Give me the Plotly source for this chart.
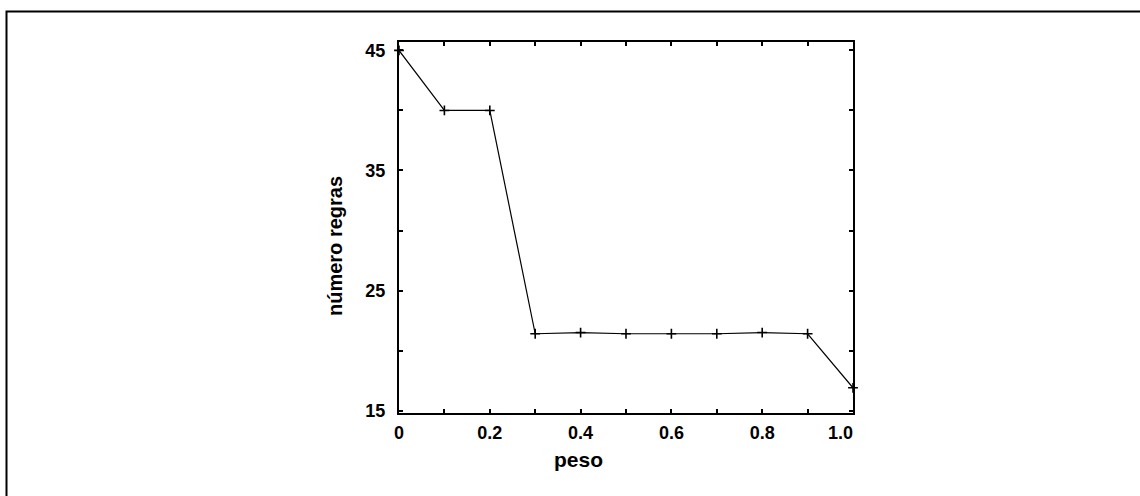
import plotly.graph_objects as go

# Data
peso = [0.0, 0.1, 0.2, 0.3, 0.4, 0.5, 0.6, 0.7, 0.8, 0.9, 1.0]
numero_regras = [45, 40, 40, 21.4, 21.5, 21.4, 21.4, 21.4, 21.5, 21.4, 16.9]

x_tickvals = [0.0, 0.1, 0.2, 0.3, 0.4, 0.5, 0.6, 0.7, 0.8, 0.9, 1.0]
x_ticktext = ["0", "", "0.2", "", "0.4", "", "0.6", "", "0.8", "", "1.0\u00a0\u00a0\u00a0\u00a0\u00a0"]
y_tickvals = [15, 20, 25, 30, 35, 40, 45]
y_ticktext = ["15", "", "25", "", "35", "", "45"]

W, H = 1140, 496
L, R, T, B = 399, 853, 42, 413  # plot area in pixels
pw, ph = R - L, B - T

def px(xp):
    return (xp - L) / pw

def py(yp):
    return (B - yp) / ph

FONT = "Liberation Sans, Arial, sans-serif"

fig = go.Figure()
fig.add_trace(go.Scatter(
    x=peso, y=numero_regras, mode="lines+markers",
    line=dict(color="black", width=1.2),
    marker=dict(symbol="cross-thin", size=7, line=dict(width=1.6, color="black"), color="black"),
    cliponaxis=False, showlegend=False,
))

axis_common = dict(
    showgrid=False, zeroline=False, showline=True, linecolor="black", linewidth=2,
    mirror="ticks", ticks="inside", ticklen=4, tickwidth=2, tickcolor="black",
    tickfont=dict(family=FONT, size=18, color="black", weight="bold"),
)

fig.update_xaxes(range=[0, 1.0], tickmode="array", tickvals=x_tickvals, ticktext=x_ticktext,
                 ticklabelstandoff=2, **axis_common)
fig.update_yaxes(range=[14.8, 45.7], tickmode="array", tickvals=y_tickvals, ticktext=y_ticktext,
                 ticklabelstandoff=8, **axis_common)

fig.update_layout(
    width=W, height=H,
    margin=dict(l=L, r=W - R, t=T, b=H - B, pad=0),
    paper_bgcolor="white", plot_bgcolor="white",
    annotations=[
        dict(text="peso", x=px(578), y=py(459), xref="paper", yref="paper",
             xanchor="center", yanchor="middle", showarrow=False,
             font=dict(family=FONT, size=21, color="black", weight="bold")),
        dict(text="número regras", x=px(335), y=py(246), xref="paper", yref="paper",
             xanchor="center", yanchor="middle", showarrow=False, textangle=-90,
             font=dict(family=FONT, size=20, color="black", weight="bold")),
    ],
    shapes=[
        dict(type="path", xref="paper", yref="paper",
             path=f"M {px(6.5)} {py(520)} L {px(6.5)} {py(11.5)} L {px(1160)} {py(11.5)}",
             line=dict(color="black", width=2)),
    ],
)

fig.write_html("out.html")
